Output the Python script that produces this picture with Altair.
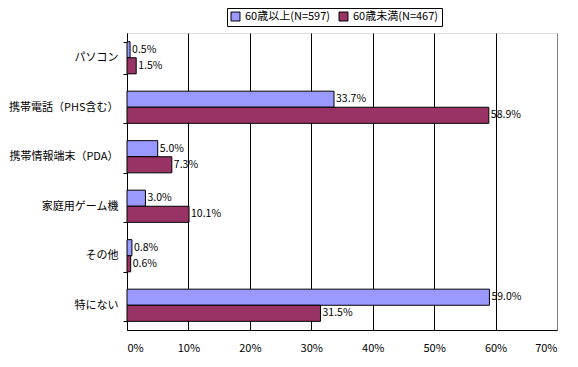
import altair as alt
import pandas as pd

categories = ["パソコン", "携帯電話（PHS含む）", "携帯情報端末（PDA）", "家庭用ゲーム機", "その他", "特にない"]
series = ["60歳以上(N=597)", "60歳未満(N=467)"]
over60 = [0.5, 33.7, 5.0, 3.0, 0.8, 59.0]
under60 = [1.5, 58.9, 7.3, 10.1, 0.6, 31.5]
colors = ["#9999FF", "#993366"]
x_ticks = [0, 10, 20, 30, 40, 50, 60, 70]

rows = []
for c, a, b in zip(categories, over60, under60):
    rows.append({"cat": c, "series": series[0], "v": a})
    rows.append({"cat": c, "series": series[1], "v": b})
df = pd.DataFrame(rows)
df["label"] = df["v"].map(lambda v: f"{v:.1f}%")

FONT = "Noto Sans CJK JP"

y_enc = alt.Y("cat:N", sort=categories, title=None,
              scale=alt.Scale(paddingInner=0.35, paddingOuter=0.175),
              axis=alt.Axis(tickBand="extent", domainColor="black", tickColor="black",
                            tickSize=4, labelFontSize=11, labelColor="black",
                            labelPadding=5, labelFont=FONT, labelLimit=200, grid=False))
x_scale = alt.Scale(domain=[0, 70], nice=False)

base = alt.Chart(df)

bars = base.mark_bar(stroke="black", strokeWidth=1).encode(
    x=alt.X("v:Q", scale=x_scale, title=None,
            axis=alt.Axis(values=x_ticks, labelExpr="datum.value + '%'", grid=True,
                          gridColor={"condition": {"test": "datum.value >= 70", "value": "#808080"},
                                     "value": "black"},
                          gridOpacity=1, ticks=False,
                          domainColor="black", labelColor="black", labelFontSize=11,
                          labelFont=FONT, labelPadding=12)),
    y=y_enc,
    yOffset=alt.YOffset("series:N", sort=series),
    color=alt.Color("series:N", sort=series,
                    scale=alt.Scale(domain=series, range=colors),
                    legend=alt.Legend(title=None, orient="none", direction="horizontal",
                                      legendX=100, legendY=-25, symbolType="square",
                                      symbolStrokeColor="black", symbolStrokeWidth=1,
                                      symbolSize=80, labelFontSize=11, labelFont=FONT,
                                      labelColor="black", strokeColor="black",
                                      padding=3, columnPadding=6, symbolOpacity=1)),
)

text = base.mark_text(align="left", baseline="middle", dx=2, fontSize=10.5,
                      font=FONT, color="black").encode(
    x=alt.X("v:Q", scale=x_scale),
    y=alt.Y("cat:N", sort=categories),
    yOffset=alt.YOffset("series:N", sort=series),
    text="label:N",
)

chart = (bars + text).properties(
    width=430, height=297,
    padding={"left": 119, "top": 25, "right": 13, "bottom": 29},
    autosize=alt.AutoSizeParams(type="none"),
).configure_view(stroke="#808080", strokeWidth=1).configure(background="white")

chart.save("out.html", embed_options={"renderer": "svg", "actions": False})
